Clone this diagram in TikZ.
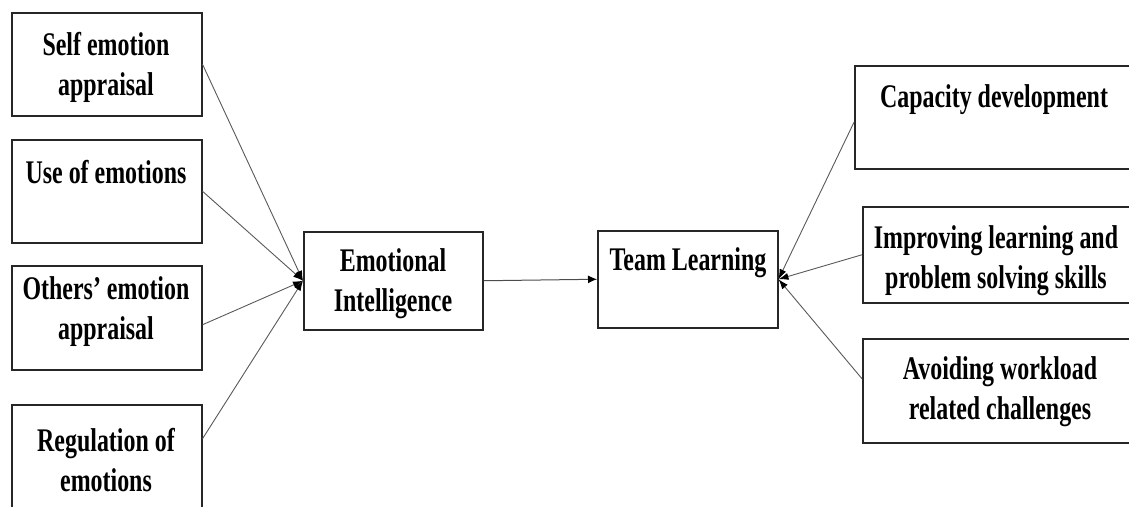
\documentclass[tikz,border=0pt]{standalone}
\usepackage{fontspec}
\setmainfont{Liberation Serif}
\usepackage{graphicx}
\usetikzlibrary{arrows.meta}

% condensed bold text block, one or more centred lines
\newcommand\boxlines[1]{\scalebox{0.725}[1]{\begin{tabular}{@{}c@{}}#1\end{tabular}}}

\begin{document}
\begin{tikzpicture}[x=1pt,y=-1pt,
  box/.style={draw=black!85, line width=1.5pt, anchor=north west, inner sep=0pt},
  lbl/.style={font=\bfseries\fontsize{33}{40}\selectfont, inner sep=0pt},
  link/.style={draw=black!65, line width=0.9pt, -{Latex[length=10pt,width=7pt,color=black]}},
  flow/.style={draw=black!70, line width=1pt, -{Latex[length=9pt,width=8pt,color=black]}}]

\useasboundingbox (0,0) rectangle (1129,506);
\clip (0,0) rectangle (1129,506);

% emotional intelligence dimensions
\node[box, minimum width=190pt, minimum height=103pt] (b1) at (11,12) {};
\node[box, minimum width=190pt, minimum height=103pt] (b2) at (11,139) {};
\node[box, minimum width=190pt, minimum height=104pt] (b3) at (11,265) {};
\node[box, minimum width=190pt, minimum height=110pt] (b4) at (11,404) {};

\node[lbl] (t1) at (106,67)  {\boxlines{Self emotion\\appraisal}};
\node[lbl] (t2) at (106,175) {\boxlines{Use of emotions}};
\node[lbl] (t3) at (106,311) {\boxlines{Others’ emotion\\appraisal}};
\node[lbl] (t4) at (106,463) {\boxlines{Regulation of\\emotions}};

% central constructs
\node[box, minimum width=179pt, minimum height=98pt] (ei) at (303,231) {};
\node[box, minimum width=180pt, minimum height=97pt] (tl) at (597,230) {};
\node[lbl] (tei) at (393,283) {\boxlines{Emotional\\Intelligence}};
\node[lbl] (ttl) at (688,262) {\boxlines{Team Learning}};

% team learning outcomes
\node[box, minimum width=300pt, minimum height=103pt] (r1) at (854,65) {};
\node[box, minimum width=300pt, minimum height=96pt]  (r2) at (862,206) {};
\node[box, minimum width=300pt, minimum height=104pt] (r3) at (862,338) {};

\node[lbl] (tr1) at (994,99)  {\boxlines{Capacity development}};
\node[lbl] (tr2) at (996,260) {\boxlines{Improving learning and\\problem solving skills}};
\node[lbl] (tr3) at (1000,391) {\boxlines{Avoiding workload\\related challenges}};

% connectors
\draw[link] (b1.east) -- (ei.west);
\draw[link] (b2.east) -- (ei.west);
\draw[link] ([yshift=-7pt]b3.east) -- (ei.west);
\draw[link] ([yshift=21pt]b4.east) -- (ei.west);

\draw[flow] (ei.east) -- (tl.west);

\draw[link] ([yshift=-5pt]r1.west) -- (tl.east);
\draw[link] (r2.west) -- (tl.east);
\draw[link] ([yshift=12pt]r3.west) -- (tl.east);
\end{tikzpicture}
\end{document}
